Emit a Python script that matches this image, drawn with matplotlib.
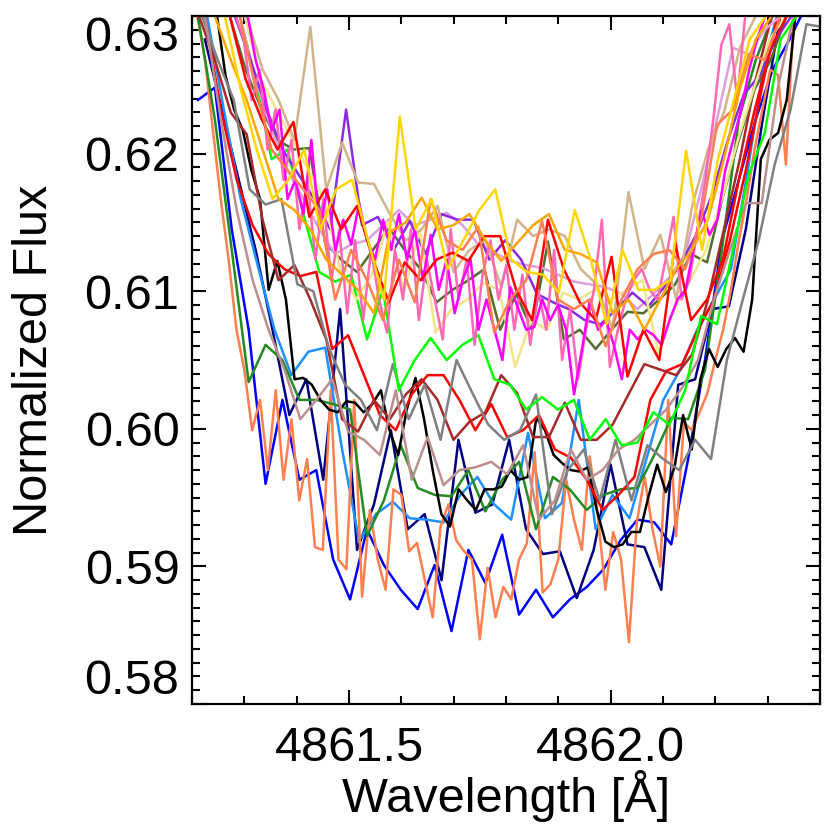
import numpy as np
import matplotlib
matplotlib.use('Agg')
import matplotlib.pyplot as plt
from matplotlib.ticker import MultipleLocator

plt.rcParams['font.family'] = ['Liberation Sans', 'DejaVu Sans']

# each spectrum: (start wavelength, pixel step) + normalized flux samples
blue_wl = (4861.2114, 0.0323)
blue_flux = [0.6239, 0.6248, 0.6145, 0.6072, 0.5960, 0.6021, 0.5963, 0.5970, 0.5905, 0.5876,
             0.5927, 0.5901, 0.5883, 0.5869, 0.5901, 0.5853, 0.5912, 0.5888, 0.5923, 0.5865,
             0.5883, 0.5863, 0.5876, 0.5885, 0.5898, 0.5919, 0.5934, 0.5932, 0.5916, 0.5978,
             0.6050, 0.6137, 0.6181, 0.6225, 0.6261, 0.6283, 0.6308]

navy_wl = (4861.2247, 0.0323)
navy_flux = [0.6283, 0.6232, 0.6181, 0.6130, 0.6072, 0.6010, 0.6036, 0.5963, 0.6087, 0.5912,
             0.5945, 0.5999, 0.5927, 0.5938, 0.5890, 0.5992, 0.5939, 0.5945, 0.5992, 0.5927,
             0.5909, 0.5911, 0.5877, 0.5912, 0.5974, 0.5916, 0.5914, 0.5883, 0.6032, 0.6036,
             0.6087, 0.6089, 0.6145, 0.6225, 0.6297]

dodger_wl = (4861.2285, 0.0323)
dodger_flux = [0.6301, 0.6232, 0.6167, 0.6119, 0.6072, 0.6039, 0.6056, 0.6059, 0.5985, 0.5919,
               0.5938, 0.5947, 0.5935, 0.5934, 0.5932, 0.5952, 0.5965, 0.5945, 0.5934, 0.5997,
               0.5935, 0.5946, 0.6021, 0.5927, 0.5952, 0.5935, 0.5978, 0.6021, 0.6043, 0.6072,
               0.6094, 0.6116, 0.6188, 0.6268, 0.6312]

coral_lo_wl = (4861.2100, 0.0150)
coral_lo_flux = [0.6300, 0.6268, 0.6217, 0.6167, 0.6123, 0.6072, 0.6043, 0.5999, 0.6021, 0.5970,
                 0.6028, 0.5963, 0.6007, 0.5948, 0.5978, 0.5914, 0.5912, 0.6028, 0.5905, 0.5898,
                 0.6021, 0.5878, 0.5941, 0.5905, 0.5883, 0.5956, 0.5952, 0.5911, 0.5917, 0.5890,
                 0.5863, 0.5929, 0.5945, 0.5919, 0.5911, 0.5905, 0.5847, 0.5899, 0.5863, 0.5885,
                 0.5876, 0.5905, 0.5917, 0.5983, 0.5881, 0.5887, 0.5905, 0.5963, 0.5934, 0.5912,
                 0.5980, 0.5939, 0.5883, 0.5925, 0.5905, 0.5845, 0.5932, 0.5965, 0.5927, 0.5900,
                 0.6021, 0.5922, 0.6005, 0.5999, 0.6012, 0.6026, 0.6050, 0.6072, 0.6101, 0.6137,
                 0.6167, 0.6203, 0.6232, 0.6261, 0.6257, 0.6192, 0.6300]

forest_wl = (4861.2114, 0.0323)
forest_flux = [0.6300, 0.6225, 0.6130, 0.6034, 0.6061, 0.6050, 0.6021, 0.6021, 0.6018, 0.6014,
               0.5922, 0.5948, 0.5988, 0.5957, 0.5952, 0.5951, 0.5970, 0.5940, 0.5963, 0.5976,
               0.5927, 0.5965, 0.5956, 0.5941, 0.5952, 0.5956, 0.5957, 0.5981, 0.6008, 0.6007,
               0.6043, 0.6130, 0.6225, 0.6268, 0.6300]

black_wl = (4861.2475, 0.0165)
black_flux = [0.6301, 0.6257, 0.6232, 0.6217, 0.6188, 0.6167, 0.6101, 0.6122, 0.6094, 0.6036,
              0.6037, 0.6032, 0.6021, 0.6014, 0.6012, 0.6020, 0.6019, 0.6012, 0.6018, 0.6028,
              0.5999, 0.5981, 0.6014, 0.6037, 0.6007, 0.5970, 0.5938, 0.5929, 0.5956, 0.5948,
              0.5941, 0.5956, 0.5956, 0.5958, 0.5970, 0.5963, 0.5965, 0.6008, 0.5999, 0.5981,
              0.5975, 0.5970, 0.5969, 0.5972, 0.5941, 0.5918, 0.5914, 0.5916, 0.5925, 0.5925,
              0.5951, 0.5974, 0.5954, 0.5972, 0.6010, 0.5985, 0.6036, 0.6058, 0.6045, 0.6058,
              0.6066, 0.6056, 0.6094, 0.6196, 0.6210, 0.6215, 0.6239, 0.6300]

red_lo_wl = (4861.2247, 0.0304)
red_lo_flux = [0.6300, 0.6232, 0.6181, 0.6148, 0.6127, 0.6116, 0.6111, 0.6114, 0.6058, 0.6068,
               0.6039, 0.6010, 0.5999, 0.6025, 0.6039, 0.6039, 0.6021, 0.5999, 0.6018, 0.5994,
               0.5999, 0.6010, 0.5985, 0.5979, 0.5963, 0.5941, 0.5952, 0.5965, 0.6021, 0.6042,
               0.6047, 0.6072, 0.6094, 0.6137, 0.6188, 0.6247, 0.6300]

brown_wl = (4861.2133, 0.0304)
brown_flux = [0.6300, 0.6268, 0.6230, 0.6214, 0.6152, 0.6108, 0.6119, 0.6094, 0.6065, 0.6007,
              0.5998, 0.6021, 0.6007, 0.6025, 0.6036, 0.6021, 0.5992, 0.6005, 0.6012, 0.6039,
              0.6026, 0.5994, 0.5994, 0.6019, 0.5992, 0.5992, 0.6003, 0.6025, 0.6047, 0.6043,
              0.6039, 0.6054, 0.6094, 0.6145, 0.6196, 0.6254, 0.6300]

gray_wl = (4861.2190, 0.0304)
gray_flux = [0.6300, 0.6268, 0.6239, 0.6174, 0.6163, 0.6167, 0.6105, 0.6100, 0.6058, 0.6032,
             0.6021, 0.5999, 0.6047, 0.6007, 0.6032, 0.5992, 0.6050, 0.6026, 0.6003, 0.5992,
             0.5999, 0.6025, 0.5938, 0.5970, 0.5985, 0.5948, 0.5992, 0.5948, 0.5988, 0.5978,
             0.5970, 0.5992, 0.5978, 0.6050, 0.6094, 0.6137, 0.6192, 0.6232, 0.6294, 0.6292]

rosy_wl = (4861.2247, 0.0304)
rosy_flux = [0.6300, 0.6225, 0.6159, 0.6108, 0.6072, 0.6043, 0.6007, 0.6021, 0.6036, 0.5998,
             0.5992, 0.5981, 0.6028, 0.5963, 0.5994, 0.5959, 0.5970, 0.5972, 0.5976, 0.5967,
             0.5988, 0.5934, 0.5948, 0.5985, 0.5963, 0.5970, 0.5985, 0.5992, 0.6003, 0.6014,
             0.6030, 0.6050, 0.6094, 0.6130, 0.6164, 0.6164, 0.6247, 0.6300]

lime_wl = (4861.2913, 0.0304)
lime_flux = [0.6300, 0.6254, 0.6196, 0.6203, 0.6156, 0.6114, 0.6107, 0.6112, 0.6065, 0.6101,
             0.6028, 0.6050, 0.6066, 0.6050, 0.6061, 0.6068, 0.6036, 0.6032, 0.6014, 0.6023,
             0.6014, 0.6021, 0.5992, 0.6007, 0.5988, 0.5990, 0.6012, 0.6003, 0.6028, 0.6082,
             0.6076, 0.6130, 0.6185, 0.6215, 0.6283, 0.6300]

violet_wl = (4861.2817, 0.0304)
violet_flux = [0.6300, 0.6268, 0.6232, 0.6203, 0.6185, 0.6167, 0.6145, 0.6232, 0.6148, 0.6154,
               0.6130, 0.6151, 0.6127, 0.6156, 0.6152, 0.6152, 0.6123, 0.6137, 0.6123, 0.6098,
               0.6092, 0.6087, 0.6079, 0.6076, 0.6087, 0.6099, 0.6089, 0.6103, 0.6119, 0.6141,
               0.6170, 0.6210, 0.6243, 0.6257, 0.6283, 0.6300]

gold_wl = (4861.2627, 0.0304)
gold_flux = [0.6300, 0.6247, 0.6203, 0.6167, 0.6181, 0.6203, 0.6145, 0.6174, 0.6181, 0.6137,
             0.6094, 0.6227, 0.6145, 0.6167, 0.6116, 0.6137, 0.6159, 0.6174, 0.6123, 0.6114,
             0.6112, 0.6099, 0.6159, 0.6123, 0.6076, 0.6130, 0.6101, 0.6101, 0.6108, 0.6202,
             0.6130, 0.6196, 0.6239, 0.6283, 0.6300]

tan_wl = (4861.3046, 0.0304)
tan_flux = [0.6300, 0.6261, 0.6239, 0.6210, 0.6292, 0.6174, 0.6208, 0.6179, 0.6178, 0.6156,
            0.6137, 0.6145, 0.6162, 0.6114, 0.6130, 0.6137, 0.6103, 0.6152, 0.6140, 0.6145,
            0.6140, 0.6116, 0.6105, 0.6072, 0.6172, 0.6116, 0.6141, 0.6094, 0.6162, 0.6203,
            0.6230, 0.6277, 0.6300]

orange_wl = (4861.2437, 0.0304)
orange_flux = [0.6300, 0.6268, 0.6239, 0.6203, 0.6167, 0.6159, 0.6145, 0.6123, 0.6112, 0.6101,
               0.6084, 0.6143, 0.6150, 0.6168, 0.6145, 0.6148, 0.6156, 0.6137, 0.6122, 0.6135,
               0.6148, 0.6156, 0.6130, 0.6127, 0.6121, 0.6084, 0.6094, 0.6072, 0.6094, 0.6116,
               0.6130, 0.6152, 0.6196, 0.6247, 0.6283, 0.6300]

plum_wl = (4861.2913, 0.0304)
plum_flux = [0.6300, 0.6254, 0.6217, 0.6188, 0.6167, 0.6145, 0.6127, 0.6134, 0.6137, 0.6148,
             0.6159, 0.6148, 0.6152, 0.6157, 0.6148, 0.6134, 0.6128, 0.6122, 0.6119, 0.6117,
             0.6112, 0.6107, 0.6105, 0.6103, 0.6098, 0.6087, 0.6098, 0.6110, 0.6127, 0.6174,
             0.6225, 0.6277, 0.6272, 0.6290, 0.6300]

khaki_wl = (4861.3008, 0.0304)
khaki_flux = [0.6300, 0.6254, 0.6232, 0.6210, 0.6188, 0.6167, 0.6116, 0.6094, 0.6112, 0.6150,
              0.6099, 0.6145, 0.6070, 0.6087, 0.6094, 0.6106, 0.6101, 0.6045, 0.6079, 0.6072,
              0.6099, 0.6094, 0.6101, 0.6094, 0.6101, 0.6108, 0.6055, 0.6087, 0.6108, 0.6130,
              0.6167, 0.6210, 0.6247, 0.6283, 0.6300]

olive_wl = (4861.2722, 0.0304)
olive_flux = [0.6300, 0.6261, 0.6232, 0.6210, 0.6203, 0.6204, 0.6135, 0.6123, 0.6114, 0.6130,
              0.6146, 0.6130, 0.6116, 0.6092, 0.6101, 0.6108, 0.6116, 0.6072, 0.6098, 0.6072,
              0.6136, 0.6065, 0.6072, 0.6058, 0.6072, 0.6085, 0.6084, 0.6094, 0.6105, 0.6127,
              0.6121, 0.6169, 0.6210, 0.6247, 0.6268, 0.6300]

magenta_wl = (4861.3065, 0.01521)
magenta_flux = [0.6300, 0.6268, 0.6247, 0.6217, 0.6232, 0.6167, 0.6181, 0.6156, 0.6210, 0.6145,
                0.6174, 0.6130, 0.6152, 0.6134, 0.6164, 0.6137, 0.6123, 0.6152, 0.6130, 0.6156,
                0.6123, 0.6145, 0.6108, 0.6141, 0.6101, 0.6123, 0.6084, 0.6108, 0.6123, 0.6072,
                0.6094, 0.6072, 0.6050, 0.6103, 0.6087, 0.6072, 0.6074, 0.6094, 0.6079, 0.6090,
                0.6072, 0.6025, 0.6058, 0.6094, 0.6072, 0.6079, 0.6061, 0.6036, 0.6072, 0.6065,
                0.6072, 0.6068, 0.6061, 0.6079, 0.6094, 0.6101, 0.6130, 0.6159, 0.6141, 0.6152,
                0.6188, 0.6210, 0.6232, 0.6261, 0.6283, 0.6300]

hotpink_wl = (4861.2837, 0.01521)
hotpink_flux = [0.6300, 0.6283, 0.6239, 0.6261, 0.6203, 0.6232, 0.6181, 0.6210, 0.6145, 0.6181,
                0.6123, 0.6167, 0.6108, 0.6145, 0.6084, 0.6137, 0.6079, 0.6130, 0.6094, 0.6070,
                0.6130, 0.6094, 0.6145, 0.6079, 0.6123, 0.6094, 0.6065, 0.6145, 0.6094, 0.6123,
                0.6061, 0.6112, 0.6137, 0.6094, 0.6119, 0.6072, 0.6112, 0.6061, 0.6101, 0.6072,
                0.6130, 0.6050, 0.6087, 0.6036, 0.6072, 0.6101, 0.6152, 0.6045, 0.6072, 0.6094,
                0.6108, 0.6116, 0.6101, 0.6094, 0.6123, 0.6154, 0.6094, 0.6108, 0.6145, 0.6181,
                0.6225, 0.6279, 0.6294, 0.6239, 0.6300]

red_hi_wl = (4861.2722, 0.0304)
red_hi_flux = [0.6300, 0.6254, 0.6225, 0.6203, 0.6223, 0.6154, 0.6174, 0.6145, 0.6162, 0.6123,
               0.6092, 0.6121, 0.6108, 0.6123, 0.6128, 0.6122, 0.6140, 0.6140, 0.6101, 0.6079,
               0.6152, 0.6116, 0.6092, 0.6079, 0.6125, 0.6038, 0.6072, 0.6050, 0.6135, 0.6079,
               0.6094, 0.6123, 0.6181, 0.6232, 0.6276, 0.6300]

coral_hi_wl = (4861.2913, 0.0304)
coral_hi_flux = [0.6300, 0.6247, 0.6203, 0.6188, 0.6174, 0.6159, 0.6094, 0.6130, 0.6108, 0.6079,
                 0.6123, 0.6092, 0.6167, 0.6137, 0.6130, 0.6147, 0.6070, 0.6094, 0.6108, 0.6151,
                 0.6094, 0.6087, 0.6094, 0.6060, 0.6094, 0.6116, 0.6127, 0.6130, 0.6116, 0.6152,
                 0.6221, 0.6232, 0.6272, 0.6268, 0.6300]

spectra = [
    (blue_wl, blue_flux, '#0000FF'),
    (navy_wl, navy_flux, '#000080'),
    (dodger_wl, dodger_flux, '#1E90FF'),
    (coral_lo_wl, coral_lo_flux, '#FF7F50'),
    (forest_wl, forest_flux, '#228B22'),
    (black_wl, black_flux, '#000000'),
    (red_lo_wl, red_lo_flux, '#FF0000'),
    (brown_wl, brown_flux, '#A52A2A'),
    (gray_wl, gray_flux, '#808080'),
    (rosy_wl, rosy_flux, '#BC8F8F'),
    (lime_wl, lime_flux, '#00FF00'),
    (olive_wl, olive_flux, '#556B2F'),
    (plum_wl, plum_flux, '#DDA0DD'),
    (violet_wl, violet_flux, '#8A2BE2'),
    (khaki_wl, khaki_flux, '#F0E68C'),
    (tan_wl, tan_flux, '#D2B48C'),
    (hotpink_wl, hotpink_flux, '#FF69B4'),
    (magenta_wl, magenta_flux, '#FF00FF'),
    (red_hi_wl, red_hi_flux, '#FF0000'),
    (coral_hi_wl, coral_hi_flux, '#FF7F50'),
    (orange_wl, orange_flux, '#FFA500'),
    (gold_wl, gold_flux, '#FFD700'),
]

fig = plt.figure(figsize=(8.3, 8.3), dpi=100)
ax = fig.add_axes([0.2313, 0.1518, 0.7566, 0.8289])

for (wl0, dwl), flux, col in spectra:
    wl = wl0 + dwl * np.arange(len(flux))
    ax.plot(wl, flux, color=col, lw=1.8)

ax.set_xlim(4861.20, 4862.40)
ax.set_ylim(0.58, 0.63)
ax.xaxis.set_major_locator(MultipleLocator(0.5))
ax.xaxis.set_minor_locator(MultipleLocator(0.1))
ax.yaxis.set_major_locator(MultipleLocator(0.01))
ax.yaxis.set_minor_locator(MultipleLocator(0.001))
ax.xaxis.set_major_formatter(plt.FuncFormatter(lambda v, p: '%.1f' % v))
ax.yaxis.set_major_formatter(plt.FuncFormatter(lambda v, p: '%.2f' % v))

ax.tick_params(which='both', direction='in', top=True, right=True, width=1.5, labelsize=35)
ax.tick_params(which='major', length=10)
ax.tick_params(which='minor', length=5.5)
ax.tick_params(axis='x', pad=16)
ax.tick_params(axis='y', pad=9)
for s in ax.spines.values():
    s.set_linewidth(1.6)

ax.set_xlabel('Wavelength [Å]', fontsize=35)
ax.set_ylabel('Normalized Flux', fontsize=35)
ax.xaxis.set_label_coords(0.5, -0.096)
ax.yaxis.set_label_coords(-0.215, 0.5)

# keep the end labels of the flux axis inside the frame height
fig.canvas.draw()
for t in ax.yaxis.get_major_ticks():
    if abs(t.get_loc() - 0.63) < 1e-6:
        t.label1.set_va('top')
    elif abs(t.get_loc() - 0.58) < 1e-6:
        t.label1.set_va('bottom')

fig.savefig('out.png', dpi=100)
